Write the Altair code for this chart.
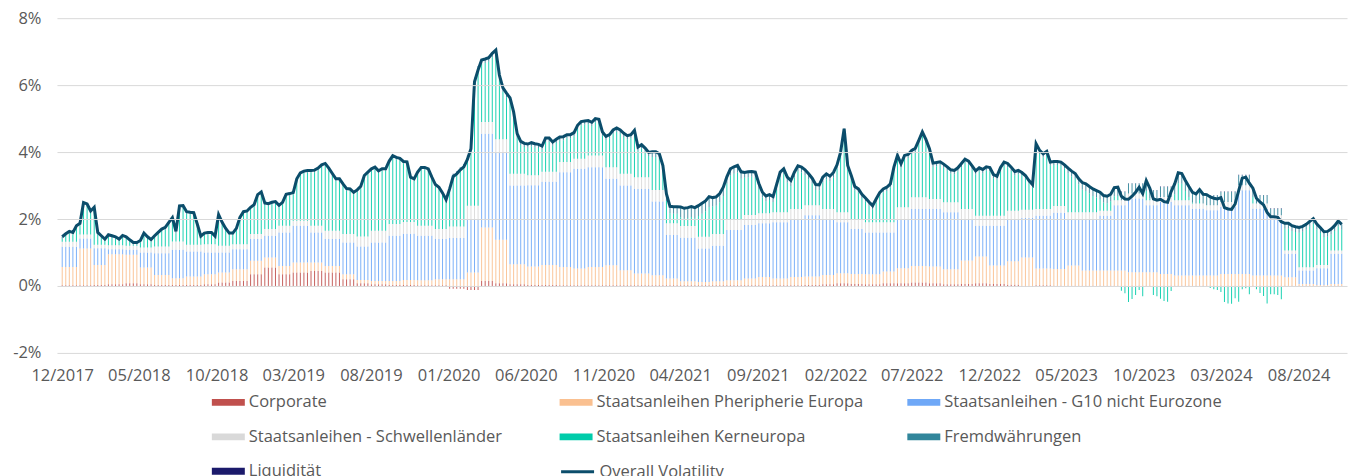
import altair as alt
import pandas as pd

FONT = "Open Sans"
TXT = "#595959"
FS = 16.5

# Weekly overall volatility (%) starting 2017-12-01
overall = [
    1.47, 1.56, 1.63, 1.60, 1.80, 1.87, 2.49, 2.45, 2.24, 2.35,
    1.60, 1.50, 1.40, 1.53, 1.50, 1.47, 1.40, 1.51, 1.47, 1.38,
    1.30, 1.30, 1.36, 1.58, 1.47, 1.39, 1.50, 1.60, 1.70, 1.75,
    1.90, 2.04, 1.63, 2.39, 2.40, 2.22, 2.20, 2.19, 1.85, 1.49,
    1.58, 1.60, 1.60, 1.49, 2.13, 1.90, 1.72, 1.58, 1.58, 1.72,
    2.05, 2.22, 2.24, 2.35, 2.43, 2.73, 2.81, 2.48, 2.46, 2.50,
    2.52, 2.41, 2.50, 2.74, 2.76, 2.79, 3.20, 3.38, 3.43, 3.45,
    3.45, 3.46, 3.52, 3.62, 3.66, 3.52, 3.36, 3.20, 3.20, 3.05,
    2.91, 2.90, 2.80, 2.87, 2.98, 3.30, 3.40, 3.50, 3.55, 3.44,
    3.50, 3.50, 3.73, 3.89, 3.84, 3.81, 3.72, 3.71, 3.25, 3.20,
    3.40, 3.54, 3.54, 3.50, 3.25, 3.03, 2.95, 2.78, 2.58, 2.90,
    3.27, 3.35, 3.47, 3.56, 3.78, 4.10, 6.10, 6.45, 6.75, 6.78,
    6.82, 6.95, 7.05, 6.30, 5.92, 5.76, 5.62, 5.20, 4.55, 4.32,
    4.26, 4.24, 4.28, 4.25, 4.23, 4.18, 4.42, 4.42, 4.30, 4.38,
    4.45, 4.46, 4.52, 4.52, 4.58, 4.80, 4.91, 4.93, 4.94, 4.89,
    5.00, 4.98, 4.60, 4.47, 4.52, 4.66, 4.72, 4.66, 4.56, 4.49,
    4.52, 4.65, 4.15, 4.22, 4.12, 3.99, 4.01, 4.01, 3.95, 3.60,
    2.75, 2.38, 2.37, 2.37, 2.36, 2.32, 2.34, 2.37, 2.34, 2.40,
    2.47, 2.54, 2.67, 2.64, 2.66, 2.76, 2.95, 3.26, 3.50, 3.56,
    3.60, 3.41, 3.39, 3.41, 3.42, 3.40, 3.06, 2.80, 2.69, 2.73,
    2.67, 3.03, 3.40, 3.50, 3.25, 3.15, 3.40, 3.59, 3.55, 3.47,
    3.35, 3.22, 3.03, 3.02, 3.25, 3.35, 3.28, 3.39, 3.62, 4.00,
    4.70, 3.60, 3.30, 2.97, 2.90, 2.74, 2.63, 2.51, 2.40, 2.60,
    2.79, 2.90, 2.95, 3.05, 3.55, 3.90, 3.65, 3.90, 3.93, 4.05,
    4.11, 4.35, 4.60, 4.38, 4.10, 3.67, 3.69, 3.71, 3.64, 3.56,
    3.47, 3.45, 3.53, 3.66, 3.79, 3.73, 3.59, 3.44, 3.53, 3.48,
    3.56, 3.54, 3.33, 3.28, 3.54, 3.70, 3.66, 3.55, 3.42, 3.45,
    3.39, 3.30, 3.15, 3.03, 4.25, 4.05, 3.95, 4.02, 3.70, 3.72,
    3.72, 3.70, 3.62, 3.52, 3.43, 3.36, 3.20, 3.09, 3.05, 2.97,
    2.90, 2.85, 2.80, 2.70, 2.68, 2.74, 2.94, 2.95, 2.68, 2.60,
    2.59, 2.68, 2.80, 2.95, 2.76, 3.15, 2.92, 2.60, 2.56, 2.59,
    2.52, 2.50, 2.82, 3.05, 3.38, 3.36, 3.15, 2.97, 2.80, 2.75,
    2.88, 2.74, 2.73, 2.66, 2.62, 2.60, 2.64, 2.34, 2.30, 2.29,
    2.45, 2.85, 3.22, 3.25, 3.07, 2.92, 2.62, 2.51, 2.42, 2.20,
    2.07, 2.07, 2.05, 1.92, 1.87, 1.87, 1.80, 1.77, 1.75, 1.78,
    1.84, 1.93, 2.01, 1.85, 1.74, 1.62, 1.63, 1.70, 1.80, 1.94, 1.84,
]

# Monthly contributions (%), Dec 2017 ... Oct 2024
corporate = [
    0.02, 0.02, 0.03, 0.05, 0.08, 0.05, 0.03, 0.03, 0.03, 0.05, 0.10, 0.15,
    0.35, 0.55, 0.35, 0.40, 0.45, 0.40, 0.20, 0.08, 0.05, 0.03, 0.03, 0.02,
    0.02, -0.08, -0.12, 0.15, 0.08, 0.05, 0.03, 0.03, 0.02, 0.02, 0.02, 0.02,
    0.02, 0.02, 0.02, 0.02, 0.02, 0.02, 0.02, 0.02, 0.02, 0.02, 0.02, 0.02,
    0.03, 0.05, 0.08, 0.06, 0.05, 0.08, 0.08, 0.10, 0.08, 0.05, 0.06, 0.08,
    0.06, 0.04, -0.03, 0.02, 0.01, 0.01, 0.01, 0.01, 0.01, 0.01, 0.01, 0.01,
    0.01, 0.01, 0.01, 0.01, 0.01, 0.01, 0.01, 0.01, 0.01, 0.01, 0.01,
]
peripherie = [
    0.55, 1.10, 0.60, 0.90, 0.85, 0.50, 0.30, 0.20, 0.25, 0.30, 0.30, 0.35,
    0.40, 0.30, 0.25, 0.30, 0.25, 0.20, 0.15, 0.10, 0.10, 0.12, 0.15, 0.15,
    0.18, 0.20, 0.40, 1.60, 1.30, 0.60, 0.55, 0.60, 0.55, 0.50, 0.55, 0.60,
    0.45, 0.35, 0.30, 0.20, 0.12, 0.10, 0.12, 0.15, 0.20, 0.25, 0.20, 0.25,
    0.25, 0.28, 0.30, 0.30, 0.30, 0.35, 0.45, 0.50, 0.50, 0.45, 0.70, 0.80,
    0.55, 0.70, 0.85, 0.50, 0.50, 0.60, 0.45, 0.45, 0.45, 0.40, 0.40, 0.35,
    0.30, 0.30, 0.30, 0.35, 0.35, 0.30, 0.30, 0.25, 0.05, 0.02, 0.05,
]
g10 = [
    0.60, 0.30, 0.50, 0.15, 0.15, 0.45, 0.65, 0.85, 0.75, 0.65, 0.60, 0.60,
    0.65, 0.65, 1.00, 1.10, 0.90, 0.80, 0.95, 1.00, 1.15, 1.35, 1.38, 1.33,
    1.20, 1.23, 1.60, 2.80, 2.60, 2.35, 2.43, 2.48, 2.83, 2.98, 2.98, 2.58,
    2.53, 2.53, 2.20, 1.30, 1.30, 1.00, 1.06, 1.50, 1.60, 1.60, 1.68, 1.73,
    1.83, 1.67, 1.52, 1.34, 1.25, 1.17, 1.47, 1.70, 1.72, 1.70, 1.24, 0.92,
    1.19, 1.26, 1.18, 1.58, 1.68, 1.39, 1.54, 1.64, 1.95, 2.20, 2.00, 2.15,
    2.10, 2.00, 1.95, 2.00, 2.50, 2.00, 1.70, 0.70, 0.40, 0.50, 0.90,
]
schwellen = [
    0.15, 0.12, 0.10, 0.12, 0.12, 0.15, 0.20, 0.25, 0.20, 0.25, 0.20, 0.15,
    0.15, 0.20, 0.20, 0.15, 0.20, 0.25, 0.25, 0.30, 0.35, 0.35, 0.35, 0.30,
    0.30, 0.35, 0.40, 0.35, 0.40, 0.35, 0.30, 0.30, 0.30, 0.30, 0.35, 0.35,
    0.35, 0.35, 0.35, 0.35, 0.35, 0.35, 0.35, 0.30, 0.30, 0.30, 0.30, 0.30,
    0.30, 0.30, 0.30, 0.30, 0.30, 0.30, 0.35, 0.35, 0.30, 0.30, 0.30, 0.30,
    0.30, 0.25, 0.25, 0.20, 0.20, 0.20, 0.20, 0.15, 0.15, 0.15, 0.15, 0.15,
    0.15, 0.15, 0.15, 0.15, 0.15, 0.15, 0.10, 0.10, 0.10, 0.10, 0.10,
]
fremd = [
    0.05, 0.05, 0.05, 0.05, 0.05, 0.05, 0.05, 0.05, 0.05, 0.05, 0.05, 0.05,
    0.05, 0.05, 0.05, 0.05, 0.05, 0.05, 0.05, 0.05, 0.05, 0.05, 0.05, 0.05,
    0.05, 0.05, 0.05, 0.10, 0.10, 0.10, 0.10, 0.10, 0.10, 0.10, 0.10, 0.10,
    0.10, 0.10, 0.15, 0.20, 0.30, 0.30, 0.25, 0.20, 0.15, 0.15, 0.15, 0.15,
    0.15, 0.15, 0.10, 0.10, 0.10, 0.10, 0.10, 0.10, 0.10, 0.10, 0.10, 0.10,
    0.10, 0.10, 0.10, 0.10, 0.10, 0.15, 0.20, 0.20, 0.25, 0.30, 0.30, 0.30,
    0.30, 0.30, 0.30, 0.30, 0.30, 0.25, 0.20, 0.15, 0.15, 0.15, 0.15,
]
liquiditaet = [
    0.01, 0.01, 0.01, 0.01, 0.01, 0.01, 0.01, 0.01, 0.01, 0.01, 0.01, 0.01,
    0.01, 0.01, 0.01, 0.01, 0.01, 0.01, 0.01, 0.01, 0.01, 0.01, 0.01, 0.01,
    0.01, 0.01, 0.01, 0.02, 0.02, 0.01, 0.01, 0.01, 0.01, 0.01, 0.01, 0.01,
    0.01, 0.01, 0.01, 0.01, 0.01, 0.01, 0.01, 0.01, 0.01, 0.01, 0.01, 0.01,
    0.01, 0.01, 0.02, 0.01, 0.01, 0.01, 0.01, 0.01, 0.01, 0.01, 0.01, 0.01,
    0.01, 0.01, 0.01, 0.01, 0.01, 0.01, 0.01, 0.01, 0.01, 0.01, 0.01, 0.01,
    0.01, 0.01, 0.01, 0.01, 0.01, 0.01, 0.01, 0.01, 0.01, 0.01, 0.01,
]

series_names = [
    "Corporate",
    "Staatsanleihen Pheripherie Europa",
    "Staatsanleihen - G10 nicht Eurozone",
    "Staatsanleihen - Schwellenländer",
    "Staatsanleihen Kerneuropa",
    "Fremdwährungen",
    "Liquidität",
]
series_colors = ["#C0504D", "#FAC090", "#6FA8F7", "#D9D9D9", "#00CCAA", "#31869B", "#1B1A6B"]
line_name = "Overall Volatility"
line_color = "#0B4D6B"

tick_labels = ["2017-12", "2018-05", "2018-10", "2019-03", "2019-08", "2020-01", "2020-06",
               "2020-11", "2021-04", "2021-09", "2022-02", "2022-07", "2022-12", "2023-05",
               "2023-10", "2024-03", "2024-08"]

dates = pd.date_range("2017-12-01", periods=len(overall), freq="7D")
bar_rows, line_rows = [], []
for d, tot in zip(dates, overall):
    m = (d.year - 2017) * 12 + d.month - 12
    parts = [corporate[m], peripherie[m], g10[m], schwellen[m], None, fremd[m], liquiditaet[m]]
    parts[4] = round(tot - sum(p for p in parts if p is not None), 3)  # remainder to total
    ds = d.strftime("%Y-%m-%dT00:00:00")
    for rank, (name, v) in enumerate(zip(series_names, parts)):
        bar_rows.append({"date": ds, "series": name, "value": v, "rank": rank})
    line_rows.append({"date": ds, "line": line_name, "total": tot})

bars_df = pd.DataFrame(bar_rows)
line_df = pd.DataFrame(line_rows)

bar_legend = alt.Legend(
    title=None, orient="none", legendX=155, legendY=368, direction="horizontal",
    columns=3, columnPadding=33, rowPadding=9.5, gridAlign="all", padding=0,
    symbolType="M-1,-0.21L1,-0.21L1,0.21L-1,0.21Z",
    symbolSize=1089, symbolStrokeWidth=0, symbolOpacity=1,
    labelFont=FONT, labelFontSize=FS, labelColor=TXT, labelOffset=4, labelLimit=500,
)
line_legend = alt.Legend(
    title=None, orient="none", legendX=503, legendY=436, padding=0,
    symbolType="M-1,0L1,0", symbolSize=1089, symbolStrokeWidth=3, symbolOpacity=1,
    labelFont=FONT, labelFontSize=FS, labelColor=TXT, labelOffset=4, labelLimit=500,
)

x_scale = alt.Scale(domain=[alt.DateTime(year=2017, month=11, date=30, hours=12),
                            alt.DateTime(year=2024, month=10, date=25, hours=12)])
x_axis = alt.Axis(
    values=[alt.DateTime(year=int(t[:4]), month=int(t[5:]), date=1) for t in tick_labels],
    format="%m/%Y", title=None, grid=False, domain=False, ticks=False,
    labelFont=FONT, labelFontSize=FS, labelColor=TXT, labelPadding=15,
)
y_scale = alt.Scale(domain=[-2, 8], nice=False)
y_axis = alt.Axis(
    values=[-2, 0, 2, 4, 6, 8], labelExpr="datum.value + '%'", title=None,
    domain=False, ticks=False, grid=True, gridColor="#D9D9D9", gridWidth=1,
    labelFont=FONT, labelFontSize=FS, labelColor=TXT, labelPadding=16,
    minExtent=49, maxExtent=49, zindex=1,
)

bars = alt.Chart(bars_df).mark_bar(width=1.0, opacity=0.9).encode(
    x=alt.X("date:T", scale=x_scale, axis=x_axis),
    y=alt.Y("value:Q", stack="zero", scale=y_scale, axis=y_axis),
    color=alt.Color("series:N", scale=alt.Scale(domain=series_names, range=series_colors),
                    legend=bar_legend),
    order=alt.Order("rank:Q", sort="ascending"),
)

line = alt.Chart(line_df).mark_line(strokeWidth=3).encode(
    x=alt.X("date:T", scale=x_scale),
    y=alt.Y("total:Q", scale=y_scale),
    color=alt.Color("line:N", scale=alt.Scale(domain=[line_name], range=[line_color]),
                    legend=line_legend),
)

chart = alt.layer(bars, line).resolve_scale(color="independent").properties(
    width=1291, height=335,
    padding={"left": 0, "top": 2, "right": 0, "bottom": 0},
    background="white",
).configure_view(stroke=None)

chart.save("out.html", embed_options={"renderer": "svg", "actions": False})
